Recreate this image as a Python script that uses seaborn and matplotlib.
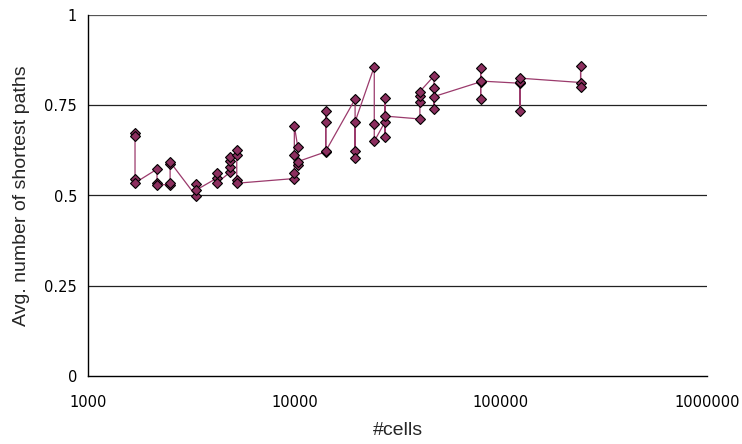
import matplotlib
matplotlib.use("Agg")
import matplotlib.pyplot as plt
import seaborn as sns
import pandas as pd
from matplotlib.ticker import FixedLocator, FixedFormatter, NullLocator

# Grid sizes (#cells) and the measured averages, in run order
cells = [1690, 1690, 1690, 1690,
         2160, 2160, 2160,
         2500, 2500, 2500, 2500,
         3340, 3340, 3340,
         4240, 4240, 4240,
         4870, 4870, 4870, 4870,
         5260, 5260, 5260, 5260,
         10000, 10000, 10000, 10000,
         10400, 10400, 10400,
         14200, 14200, 14200, 14200,
         19700, 19700, 19700, 19700,
         24400, 24400, 24400,
         27500, 27500, 27500, 27500,
         40600, 40600, 40600, 40600,
         47500, 47500, 47500, 47500,
         80000, 80000, 80000, 80000,
         124000, 124000, 124000, 124000,
         244000, 244000, 244000]
avg_paths = [0.672, 0.665, 0.545, 0.535,
             0.573, 0.535, 0.530,
             0.530, 0.535, 0.588, 0.593,
             0.498, 0.532, 0.515,
             0.549, 0.563, 0.536,
             0.564, 0.578, 0.595, 0.607,
             0.612, 0.626, 0.543, 0.534,
             0.547, 0.561, 0.612, 0.693,
             0.633, 0.584, 0.594,
             0.621, 0.704, 0.734, 0.623,
             0.767, 0.624, 0.605, 0.704,
             0.857, 0.697, 0.650,
             0.704, 0.663, 0.769, 0.720,
             0.712, 0.760, 0.776, 0.788,
             0.831, 0.740, 0.799, 0.774,
             0.815, 0.852, 0.767, 0.817,
             0.811, 0.735, 0.814, 0.825,
             0.813, 0.859, 0.800]

x_ticks = [1000, 10000, 100000, 1000000]
x_tick_labels = ["1000", "10000", "100000", "1000000"]
y_ticks = [0, 0.25, 0.5, 0.75, 1]
y_tick_labels = ["0", "0.25", "0.5", "0.75", "1"]

df = pd.DataFrame({"cells": cells, "avg": avg_paths})

sns.set_style("white")
plt.rcParams["font.family"] = ["DejaVu Sans"]

fig = plt.figure(figsize=(7.42, 4.44), dpi=100)
ax = fig.add_axes([88 / 742, 1 - 376 / 444, (707 - 88) / 742, (376 - 15) / 444])

# horizontal reference lines
for yv in y_ticks[1:]:
    ax.axhline(yv, color="#222222" if yv < 1 else "#555555", lw=0.9, zorder=1)

sns.lineplot(data=df, x="cells", y="avg", sort=False, estimator=None,
             color="#9b3a6c", lw=0.9, marker="D", markersize=4.6,
             markerfacecolor="#8c2f5f", markeredgecolor="black",
             markeredgewidth=0.8, ax=ax, zorder=3)

ax.set_xscale("log")
ax.set_xlim(1000, 1000000)
ax.set_ylim(0, 1)
ax.xaxis.set_major_locator(FixedLocator(x_ticks))
ax.xaxis.set_major_formatter(FixedFormatter(x_tick_labels))
ax.xaxis.set_minor_locator(NullLocator())
ax.yaxis.set_major_locator(FixedLocator(y_ticks))
ax.yaxis.set_major_formatter(FixedFormatter(y_tick_labels))

for side in ["top", "right"]:
    ax.spines[side].set_visible(False)
for side in ["left", "bottom"]:
    ax.spines[side].set_visible(True)
    ax.spines[side].set_color("black")
    ax.spines[side].set_linewidth(1.0)

ax.tick_params(axis="both", which="major", direction="out", length=5,
               width=0.8, color="black", labelsize=10.5, labelcolor="black")
ax.tick_params(axis="x", pad=9)
ax.tick_params(axis="y", pad=3)

label_fonts = ["Liberation Sans Narrow", "Liberation Sans", "DejaVu Sans"]
ax.set_xlabel("#cells", fontsize=14, family=label_fonts, labelpad=8)
ax.set_ylabel("Avg. number of shortest paths", fontsize=14,
              family=label_fonts, labelpad=10)

fig.savefig("out.png", dpi=100)
